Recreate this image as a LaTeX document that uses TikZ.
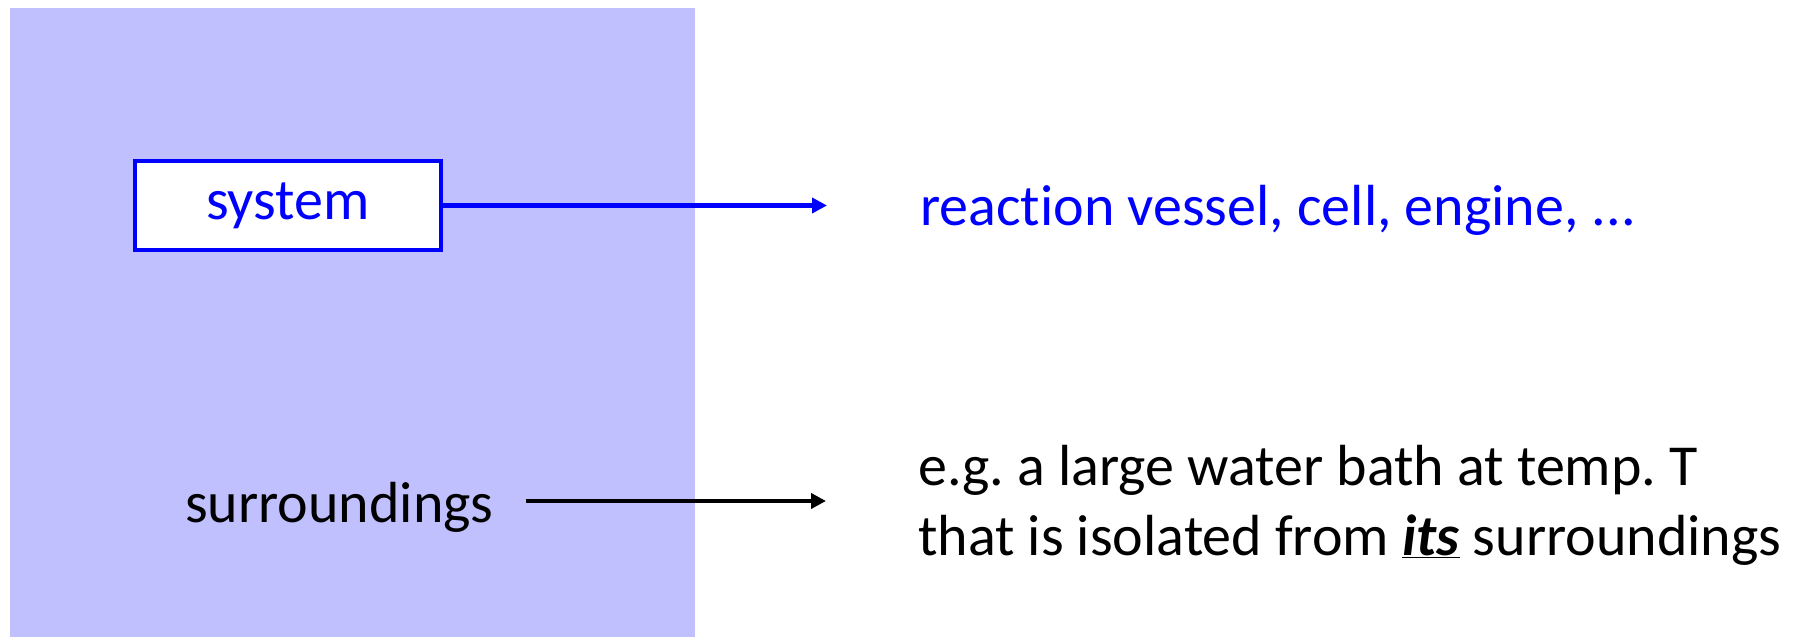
\documentclass[tikz,border=0pt]{standalone}
\usepackage{fontspec}
\setmainfont{Carlito}[Ligatures={NoCommon}]
\usetikzlibrary{arrows.meta}
\definecolor{bgpurple}{RGB}{192,192,255}
\definecolor{sysblue}{RGB}{0,0,255}
\frenchspacing
\tikzset{
  bigtext/.style={font=\fontsize{58}{70}\selectfont, inner sep=0pt},
  sysbox/.style={draw=sysblue, line width=4pt, fill=white, text=sysblue,
    minimum width=306pt, minimum height=89pt, inner sep=0pt,
    font=\fontsize{58}{70}\selectfont},
  conn/.style={line width=4.5pt, -{Triangle[length=15pt,width=15pt]}},
}
\begin{document}
\begin{tikzpicture}[x=1pt,y=1pt]
\useasboundingbox (0,0) rectangle (1799,-637);
\fill[bgpurple] (10,-8) rectangle (695,-637);
\node[sysbox] (sys) at (288,-205.5) {system};
\coordinate (sysend) at (827,-205.5);
\draw[conn, sysblue] (sys.east |- sysend) -- (sysend);
\node[bigtext, text=sysblue, anchor=base west] (systxt) at (920,-225) {reaction vessel, cell, engine, ...};
\node[bigtext, anchor=base west] (sur) at (185,-522) {surroundings};
\coordinate (surstart) at (526,-501);
\coordinate (surend) at (826,-501);
\draw[conn] (surstart) -- (surend);
\node[bigtext, anchor=base west, align=left] (surtxt) at (918,-555) {e.g. a large water bath at temp. T\\that is isolated from \underline{\textbf{\textit{its}}} surroundings};
\end{tikzpicture}
\end{document}
